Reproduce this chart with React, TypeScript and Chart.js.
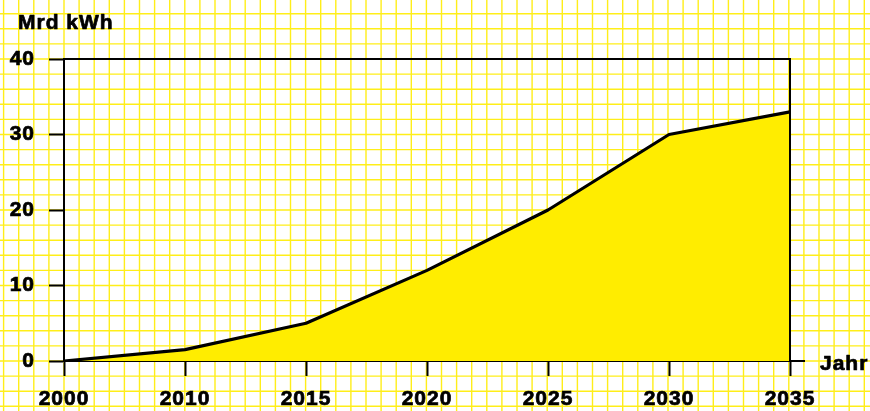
import React, { useEffect, useRef } from "react";
import { Chart, registerables } from "chart.js";

Chart.register(...registerables);

const years = ["2000", "2010", "2015", "2020", "2025", "2030", "2035"];
const values = [0, 1.5, 5, 12, 20, 30, 33];
const yTicks = [0, 10, 20, 30, 40];
const yUnit = "Mrd kWh";
const xUnit = "Jahr";

const FONT = '"Liberation Sans", Arial, Helvetica, sans-serif';

const paperPlugin = {
  id: "paper",
  beforeDraw(chart: any) {
    const { ctx, width, height, chartArea } = chart;
    ctx.save();
    ctx.fillStyle = "#ffffff";
    ctx.fillRect(0, 0, width, height);
    const s = (chartArea.bottom - chartArea.top) / 20;
    ctx.strokeStyle = "rgba(255,236,0,0.9)";
    ctx.lineWidth = 1.4;
    ctx.beginPath();
    let x0 = chartArea.left;
    while (x0 - s > 0) x0 -= s;
    for (let x = x0; x < width; x += s) {
      ctx.moveTo(x, 0);
      ctx.lineTo(x, height);
    }
    let y0 = chartArea.top;
    while (y0 - s > 0) y0 -= s;
    for (let y = y0; y < height; y += s) {
      ctx.moveTo(0, y);
      ctx.lineTo(width, y);
    }
    ctx.stroke();
    ctx.restore();
    try {
      ctx.letterSpacing = "1px";
    } catch (e) {}
  },
  afterDraw(chart: any) {
    const { ctx, chartArea } = chart;
    ctx.save();
    ctx.strokeStyle = "#000";
    ctx.lineWidth = 2;
    ctx.beginPath();
    ctx.moveTo(chartArea.left, chartArea.top);
    ctx.lineTo(chartArea.right, chartArea.top);
    ctx.lineTo(chartArea.right, chartArea.bottom);
    ctx.moveTo(chartArea.right, chartArea.bottom);
    ctx.lineTo(chartArea.right + 15, chartArea.bottom);
    ctx.stroke();
    ctx.fillStyle = "#000";
    ctx.font = `bold 21px ${FONT}`;
    ctx.textBaseline = "alphabetic";
    ctx.textAlign = "left";
    ctx.lineWidth = 0.7;
    ctx.lineJoin = "round";
    ctx.strokeText(yUnit, 18, 29);
    ctx.fillText(yUnit, 18, 29);
    ctx.strokeText(xUnit, 820, 370);
    ctx.fillText(xUnit, 820, 370);
    ctx.restore();
  },
};

export default function App() {
  const ref = useRef<HTMLCanvasElement>(null);
  useEffect(() => {
    document.body.style.margin = "0";
    const chart = new Chart(ref.current!, {
      type: "line",
      data: {
        labels: years,
        datasets: [
          {
            data: values,
            borderColor: "#000",
            borderWidth: 3.2,
            backgroundColor: "#ffed00",
            fill: "origin",
            pointRadius: 0,
            tension: 0,
            borderJoinStyle: "round",
          },
        ],
      },
      options: {
        animation: false,
        responsive: false,
        devicePixelRatio: 1,
        layout: { padding: { top: 59, right: 80, left: 0, bottom: 0 } },
        plugins: { legend: { display: false }, tooltip: { enabled: false } },
        scales: {
          x: {
            type: "category",
            offset: false,
            border: { display: true, color: "#000", width: 2 },
            grid: {
              drawOnChartArea: false,
              drawTicks: true,
              tickLength: 15,
              tickColor: "#000",
              tickWidth: 2,
            },
            ticks: {
              color: "#000",
              font: { family: FONT, size: 21, weight: "bold" },
              padding: 11,
              maxRotation: 0,
              autoSkip: false,
              textStrokeColor: "#000",
              textStrokeWidth: 0.7,
            },
            afterFit(scale: any) {
              scale.height = 50;
            },
          },
          y: {
            min: 0,
            max: 40,
            afterBuildTicks(scale: any) {
              scale.ticks = yTicks.map((v) => ({ value: v }));
            },
            border: { display: true, color: "#000", width: 2 },
            grid: {
              drawOnChartArea: false,
              drawTicks: true,
              tickLength: 15,
              tickColor: "#000",
              tickWidth: 2,
            },
            ticks: {
              color: "#000",
              font: { family: FONT, size: 21, weight: "bold" },
              padding: 14,
              textStrokeColor: "#000",
              textStrokeWidth: 0.7,
            },
            afterFit(scale: any) {
              scale.width = 64;
            },
          },
        },
      },
      plugins: [paperPlugin],
    });
    return () => chart.destroy();
  }, []);
  return (
    <div style={{ position: "absolute", left: 0, top: 0, width: 870, height: 411 }}>
      <canvas ref={ref} width={870} height={411} style={{ display: "block" }} />
    </div>
  );
}
